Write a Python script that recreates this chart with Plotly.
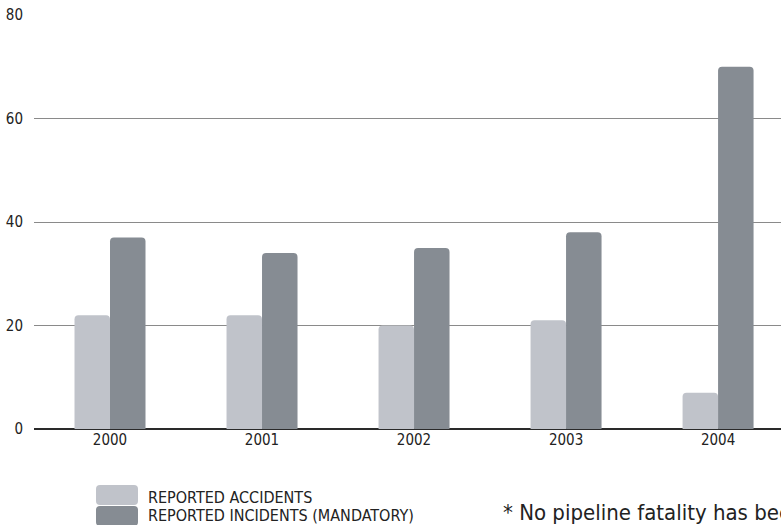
import plotly.graph_objects as go

# Yearly pipeline safety figures
years = ["2000", "2001", "2002", "2003", "2004"]
reported_accidents = [22, 22, 20, 21, 7]
reported_incidents = [37, 34, 35, 38, 70]
y_ticks = [0, 20, 40, 60, 80]

legend_labels = ["REPORTED ACCIDENTS", "REPORTED INCIDENTS (MANDATORY)"]
footnote = "* No pipeline fatality has been reported"

LIGHT = "#c0c3ca"
DARK = "#868c93"
FONT = "Liberation Sans Narrow, DejaVu Sans Condensed, Arial Narrow, sans-serif"
TEXT = "#222222"

W, H = 781, 525
L, R, T, B = 34, 0, 15, 96
plot_w = W - L - R
plot_h = H - T - B


def px_x(x):
    return (x - L) / plot_w


def px_y(y):
    return (H - B - y) / plot_h


def rounded_rect(x0, y0, x1, y1, r):
    # rounded rectangle path in paper coordinates, from pixel corners
    X0, X1 = px_x(x0), px_x(x1)
    Y0, Y1 = px_y(y0), px_y(y1)
    rx, ry = r / plot_w, r / plot_h
    return (
        f"M{X0 + rx},{Y0} L{X1 - rx},{Y0} Q{X1},{Y0} {X1},{Y0 - ry} "
        f"L{X1},{Y1 + ry} Q{X1},{Y1} {X1 - rx},{Y1} "
        f"L{X0 + rx},{Y1} Q{X0},{Y1} {X0},{Y1 + ry} "
        f"L{X0},{Y0 - ry} Q{X0},{Y0} {X0 + rx},{Y0} Z"
    )


fig = go.Figure()
fig.add_trace(go.Bar(x=years, y=reported_accidents, name=legend_labels[0],
                     marker=dict(color=LIGHT, line=dict(width=0))))
fig.add_trace(go.Bar(x=years, y=reported_incidents, name=legend_labels[1],
                     marker=dict(color=DARK, line=dict(width=0))))

shapes = [
    dict(type="path", xref="paper", yref="paper",
         path=rounded_rect(96, 485, 138, 505, 4),
         fillcolor=LIGHT, line=dict(width=0), layer="above"),
    dict(type="path", xref="paper", yref="paper",
         path=rounded_rect(96, 506, 138, 526, 4),
         fillcolor=DARK, line=dict(width=0), layer="above"),
]

annotations = [
    dict(text=legend_labels[0], xref="paper", yref="paper",
         x=px_x(146), y=px_y(497), xanchor="left", yanchor="middle",
         showarrow=False, font=dict(family=FONT, size=16, color=TEXT)),
    dict(text=legend_labels[1], xref="paper", yref="paper",
         x=px_x(146), y=px_y(515), xanchor="left", yanchor="middle",
         showarrow=False, font=dict(family=FONT, size=16, color=TEXT)),
    dict(text=footnote, xref="paper", yref="paper",
         x=px_x(501), y=px_y(512), xanchor="left", yanchor="middle",
         showarrow=False, font=dict(family=FONT, size=22, color=TEXT)),
]

fig.update_layout(
    width=W, height=H,
    margin=dict(l=L, r=R, t=T, b=B, pad=0),
    paper_bgcolor="white", plot_bgcolor="white",
    barmode="group", bargap=0.533, bargroupgap=0.0,
    barcornerradius=4,
    showlegend=False,
    font=dict(family=FONT, size=15, color=TEXT),
    xaxis=dict(range=[-0.5, 4.414],
               showgrid=False, showline=False, zeroline=False,
               ticks="", tickfont=dict(family=FONT, size=15, color=TEXT)),
    yaxis=dict(range=[0, 80], tickvals=y_ticks,
               showgrid=True, gridcolor="#8a8a8a", gridwidth=1,
               zeroline=True, zerolinecolor="#2a2a2a", zerolinewidth=2,
               showline=False, ticks="", ticklabelstandoff=10,
               tickfont=dict(family=FONT, size=15, color=TEXT)),
    shapes=shapes,
    annotations=annotations,
)

fig.write_html("out.html")
